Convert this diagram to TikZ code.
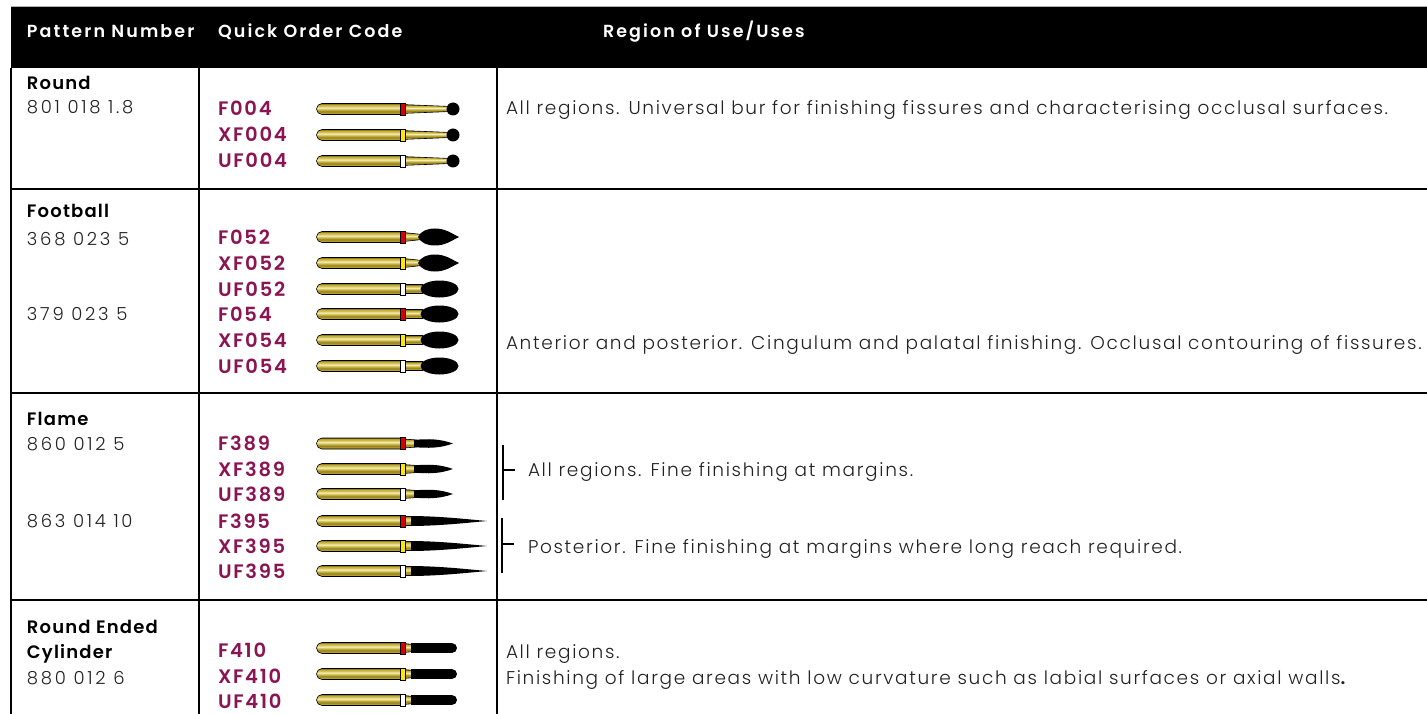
\documentclass[tikz,border=0pt]{standalone}
\usepackage{fontspec}
\setmainfont{Poppins}[UprightFont=* Light, BoldFont=* SemiBold]
\definecolor{codec}{HTML}{8B1452}
\definecolor{txt}{HTML}{222222}
\definecolor{gA}{HTML}{6E5F14}
\definecolor{gB}{HTML}{B8A030}
\definecolor{gC}{HTML}{958222}
\definecolor{gD}{HTML}{C9B440}
\definecolor{gE}{HTML}{F5EFB8}
\definecolor{gF}{HTML}{D4C255}
\definecolor{gG}{HTML}{BFA93A}
\pgfdeclareverticalshading{goldsh}{100bp}{color(0bp)=(gA); color(25bp)=(gA); color(31bp)=(gB); color(39bp)=(gC); color(47bp)=(gD); color(56bp)=(gE); color(63bp)=(gF); color(70bp)=(gG); color(75bp)=(gA); color(100bp)=(gA)}
\newcommand\fhdr{\fontsize{17.5}{21}\selectfont\bfseries\addfontfeatures{LetterSpace=12}}
\newcommand\fname{\fontsize{18}{21}\selectfont\bfseries\addfontfeatures{LetterSpace=6.5}}
\newcommand\fnum{\fontsize{18}{21}\selectfont\addfontfeatures{LetterSpace=15}}
\newcommand\fcode{\fontsize{19.5}{23}\selectfont\bfseries\addfontfeatures{LetterSpace=9}}
\newcommand\fdesc{\fontsize{18.5}{22}\selectfont\addfontfeatures{LetterSpace=9}}
\tikzset{
  every node/.style={inner sep=0pt, outer sep=0pt},
  hdr/.style={anchor=base west, text=white, font=\fhdr},
  pname/.style={anchor=base west, text=black, font=\fname},
  pnum/.style={anchor=base west, text=txt, font=\fnum},
  code/.style={anchor=base west, text=codec, font=\fcode},
  desc/.style={anchor=base west, text=txt, font=\fdesc},
  grid/.style={line width=1.4pt, black},
  brk/.style={line width=1.2pt, black},
  shaft/.style={shading=goldsh, draw=black, line width=0.6pt},
  pics/shank/.style={code={
    \shadedraw[shaft] (401,-5.5) -- (322,-5.5) .. controls (319,-5.5) and (316.5,-3) .. (316.5,0) .. controls (316.5,3) and (319,5.5) .. (322,5.5) -- (401,5.5) -- cycle;
    \filldraw[fill=#1, draw=black, line width=0.5pt] (400.5,-6) rectangle (405.5,6);
  }},
  pics/ball/.style={code={
    \shadedraw[shaft] (405.5,-4.3) -- (448,-2.6) -- (448,2.6) -- (405.5,4.3) -- cycle;
    \fill[black] (453,0) circle[radius=6.5];
  }},
  pics/footp/.style={code={
    \shadedraw[shaft] (405.5,-4.3) -- (421,-2.6) -- (421,2.6) -- (405.5,4.3) -- cycle;
    \fill[black] (418,0) .. controls (421,-6) and (427,-8.5) .. (435,-8.5) .. controls (445,-8.5) and (451,-4) .. (459,0) .. controls (451,4) and (445,8.5) .. (435,8.5) .. controls (427,8.5) and (421,6) .. (418,0) -- cycle;
  }},
  pics/footr/.style={code={
    \shadedraw[shaft] (405.5,-4.3) -- (422,-4.3) -- (422,4.3) -- (405.5,4.3) -- cycle;
    \fill[black] (439.5,0) ellipse[x radius=19, y radius=8.5];
  }},
  pics/flames/.style={code={
    \shadedraw[shaft] (405.5,-4.3) -- (416,-3.6) -- (416,3.6) -- (405.5,4.3) -- cycle;
    \fill[black] (414,-3.6) .. controls (428,-4.8) and (440,-4.8) .. (453,0) .. controls (440,4.8) and (428,4.8) .. (414,3.6) -- cycle;
  }},
  pics/flamel/.style={code={
    \shadedraw[shaft] (405.5,-4.5) -- (412,-4.5) -- (412,4.5) -- (405.5,4.5) -- cycle;
    \fill[black] (411,-5) .. controls (440,-4.8) and (465,-2) .. (487,0) .. controls (465,2) and (440,4.8) .. (411,5) -- cycle;
  }},
  pics/cyl/.style={code={
    \shadedraw[shaft] (405.5,-4.3) -- (413,-3.6) -- (413,3.6) -- (405.5,4.3) -- cycle;
    \fill[black] (411,-4.8) -- (452.2,-4.8) .. controls (454.8,-4.8) and (457,-2.7) .. (457,0) .. controls (457,2.7) and (454.8,4.8) .. (452.2,4.8) -- (411,4.8) -- cycle;
  }},
}
\begin{document}
\begin{tikzpicture}[x=1pt,y=-1pt]
\useasboundingbox (0,0) rectangle (1427,714);
\fill[white] (0,0) rectangle (1427,714);
% header
\fill[black] (11,7) rectangle (1427,68);
\draw[gray!60, line width=1pt] (11,6.5) -- (1427,6.5);
\node[hdr] (h1) at (27,38) {Pattern Number};
\node[hdr] (h2) at (218,38) {Quick Order Code};
\node[hdr] (h3) at (603,38) {Region of Use/Uses};
% grid
\draw[grid] (11,68) -- (11,714);
\draw[grid] (199,68) -- (199,714);
\draw[grid] (497,68) -- (497,714);
\draw[grid] (11,189) -- (1427,189);
\draw[grid] (11,393) -- (1427,393);
\draw[grid] (11,600) -- (1427,600);
% Round
\node[pname] (n1) at (27,89.5) {Round};
\node[pnum] (p1) at (27,113.5) {801 018 1.8};
\node[code] (c1) at (218,116) {F004};
\node[code] (c2) at (218,141.7) {XF004};
\node[code] (c3) at (218,167.3) {UF004};
\pic at (0,109) {shank=red!85!black}; \pic at (0,109) {ball};
\pic at (0,135) {shank=yellow!90!orange}; \pic at (0,135) {ball};
\pic at (0,161) {shank=white}; \pic at (0,161) {ball};
\node[desc] (d1) at (506,115) {All regions. Universal bur for finishing fissures and characterising occlusal surfaces.};
% Football
\node[pname] (n2) at (27,218) {Football};
\node[pnum] (p2) at (27,245) {368 023 5};
\node[pnum] (p3) at (27,320) {379 023 5};
\node[code] (c4) at (218,244) {F052};
\node[code] (c5) at (218,270) {XF052};
\node[code] (c6) at (218,296) {UF052};
\node[code] (c7) at (218,321) {F054};
\node[code] (c8) at (218,347) {XF054};
\node[code] (c9) at (218,373) {UF054};
\pic at (0,237) {shank=red!85!black}; \pic at (0,237) {footp};
\pic at (0,263) {shank=yellow!90!orange}; \pic at (0,263) {footp};
\pic at (0,289) {shank=white}; \pic at (0,289) {footr};
\pic at (0,314) {shank=red!85!black}; \pic at (0,314) {footr};
\pic at (0,340) {shank=yellow!90!orange}; \pic at (0,340) {footr};
\pic at (0,366) {shank=white}; \pic at (0,366) {footr};
\node[desc] (d2) at (506,349) {Anterior and posterior. Cingulum and palatal finishing. Occlusal contouring of fissures.};
% Flame
\node[pname] (n3) at (27,425.5) {Flame};
\node[pnum] (p4) at (27,450) {860 012 5};
\node[pnum] (p5) at (27,527) {863 014 10};
\node[code] (c10) at (218,450.7) {F389};
\node[code] (c11) at (218,476) {XF389};
\node[code] (c12) at (218,501) {UF389};
\node[code] (c13) at (218,528) {F395};
\node[code] (c14) at (218,553) {XF395};
\node[code] (c15) at (218,578) {UF395};
\pic at (0,443.5) {shank=red!85!black}; \pic at (0,443.5) {flames};
\pic at (0,469) {shank=yellow!90!orange}; \pic at (0,469) {flames};
\pic at (0,494) {shank=white}; \pic at (0,494) {flames};
\pic at (0,521) {shank=red!85!black}; \pic at (0,521) {flamel};
\pic at (0,546) {shank=yellow!90!orange}; \pic at (0,546) {flamel};
\pic at (0,571) {shank=white}; \pic at (0,571) {flamel};
\coordinate (b1t) at (503,445); \coordinate (b1b) at (503,500);
\coordinate (b1m) at (503,470); \coordinate (b1e) at (515,470);
\coordinate (b2t) at (502,518); \coordinate (b2b) at (502,573);
\coordinate (b2m) at (502,544); \coordinate (b2e) at (514,544);
\draw[brk] (b1t) -- (b1b); \draw[brk] (b1m) -- (b1e);
\draw[brk] (b2t) -- (b2b); \draw[brk] (b2m) -- (b2e);
\node[desc] (d3) at (528,476.5) {All regions. Fine finishing at margins.};
\node[desc] (d4) at (528,553) {Posterior. Fine finishing at margins where long reach required.};
% Round ended cylinder
\node[pname] (n4) at (27,633) {Round Ended};
\node[pname] (n5) at (27,658) {Cylinder};
\node[pnum] (p6) at (27,684) {880 012 6};
\node[code] (c16) at (218,657) {F410};
\node[code] (c17) at (218,683) {XF410};
\node[code] (c18) at (218,708.5) {UF410};
\pic at (0,648) {shank=red!85!black}; \pic at (0,648) {cyl};
\pic at (0,674) {shank=yellow!90!orange}; \pic at (0,674) {cyl};
\pic at (0,700) {shank=white}; \pic at (0,700) {cyl};
\node[desc] (d5) at (506,658) {All regions.};
\node[desc] (d6) at (506,684) {Finishing of large areas with low curvature such as labial surfaces or axial walls\textbf{.}};
\end{tikzpicture}
\end{document}
